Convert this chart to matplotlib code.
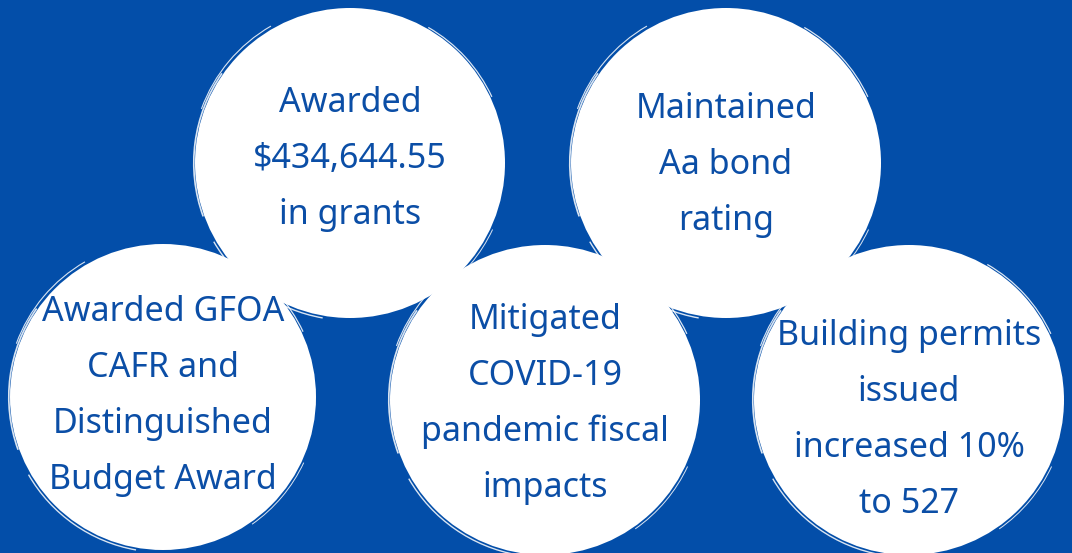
import matplotlib
matplotlib.use('Agg')
import matplotlib.pyplot as plt
from matplotlib.patches import Circle, Arc

# 内容
labels = [
    'Awarded\n$434,644.55\nin grants',
    'Maintained\nAa bond\nrating',
    'Awarded GFOA\nCAFR and\nDistinguished\nBudget Award',
    'Mitigated\nCOVID-19\npandemic fiscal\nimpacts',
    'Building permits\nissued\nincreased 10%\nto 527',
]

BG = '#034ea9'
TXT = '#0b4ea6'

# 布局（像素坐标）
centers = [(350, 163), (726, 163), (163, 397), (545, 400), (909, 400)]
radii = [155, 155, 153, 155, 155]
text_y = [159, 165, 396, 404, 420]

fig = plt.figure(figsize=(10.72, 5.53), dpi=100)
fig.patch.set_facecolor(BG)
ax = fig.add_axes([0, 0, 1, 1])
ax.set_xlim(0, 1072)
ax.set_ylim(553, 0)
ax.set_facecolor(BG)
ax.axis('off')

# 笔刷效果的弧线
brush = [(1.015, 100, 150, 1.0), (1.02, 200, 240, 0.8), (1.01, 300, 335, 0.9),
         (1.015, 25, 55, 0.7), (1.008, 160, 215, 1.2)]

for (cx, cy), r in zip(centers, radii):
    ax.add_patch(Circle((cx, cy), r, facecolor='white', edgecolor='none', zorder=2))
    for k, t1, t2, lw in brush:
        ax.add_patch(Arc((cx, cy), 2 * r * k, 2 * r * k, theta1=t1, theta2=t2,
                         color='white', lw=lw, alpha=0.85, zorder=2))

for (cx, cy), ty, lab in zip(centers, text_y, labels):
    ax.text(cx, ty, lab, ha='center', va='center', color=TXT, fontsize=24.5,
            family='Noto Sans', linespacing=1.84, zorder=3)

plt.savefig('out.png', dpi=100, facecolor=BG)
